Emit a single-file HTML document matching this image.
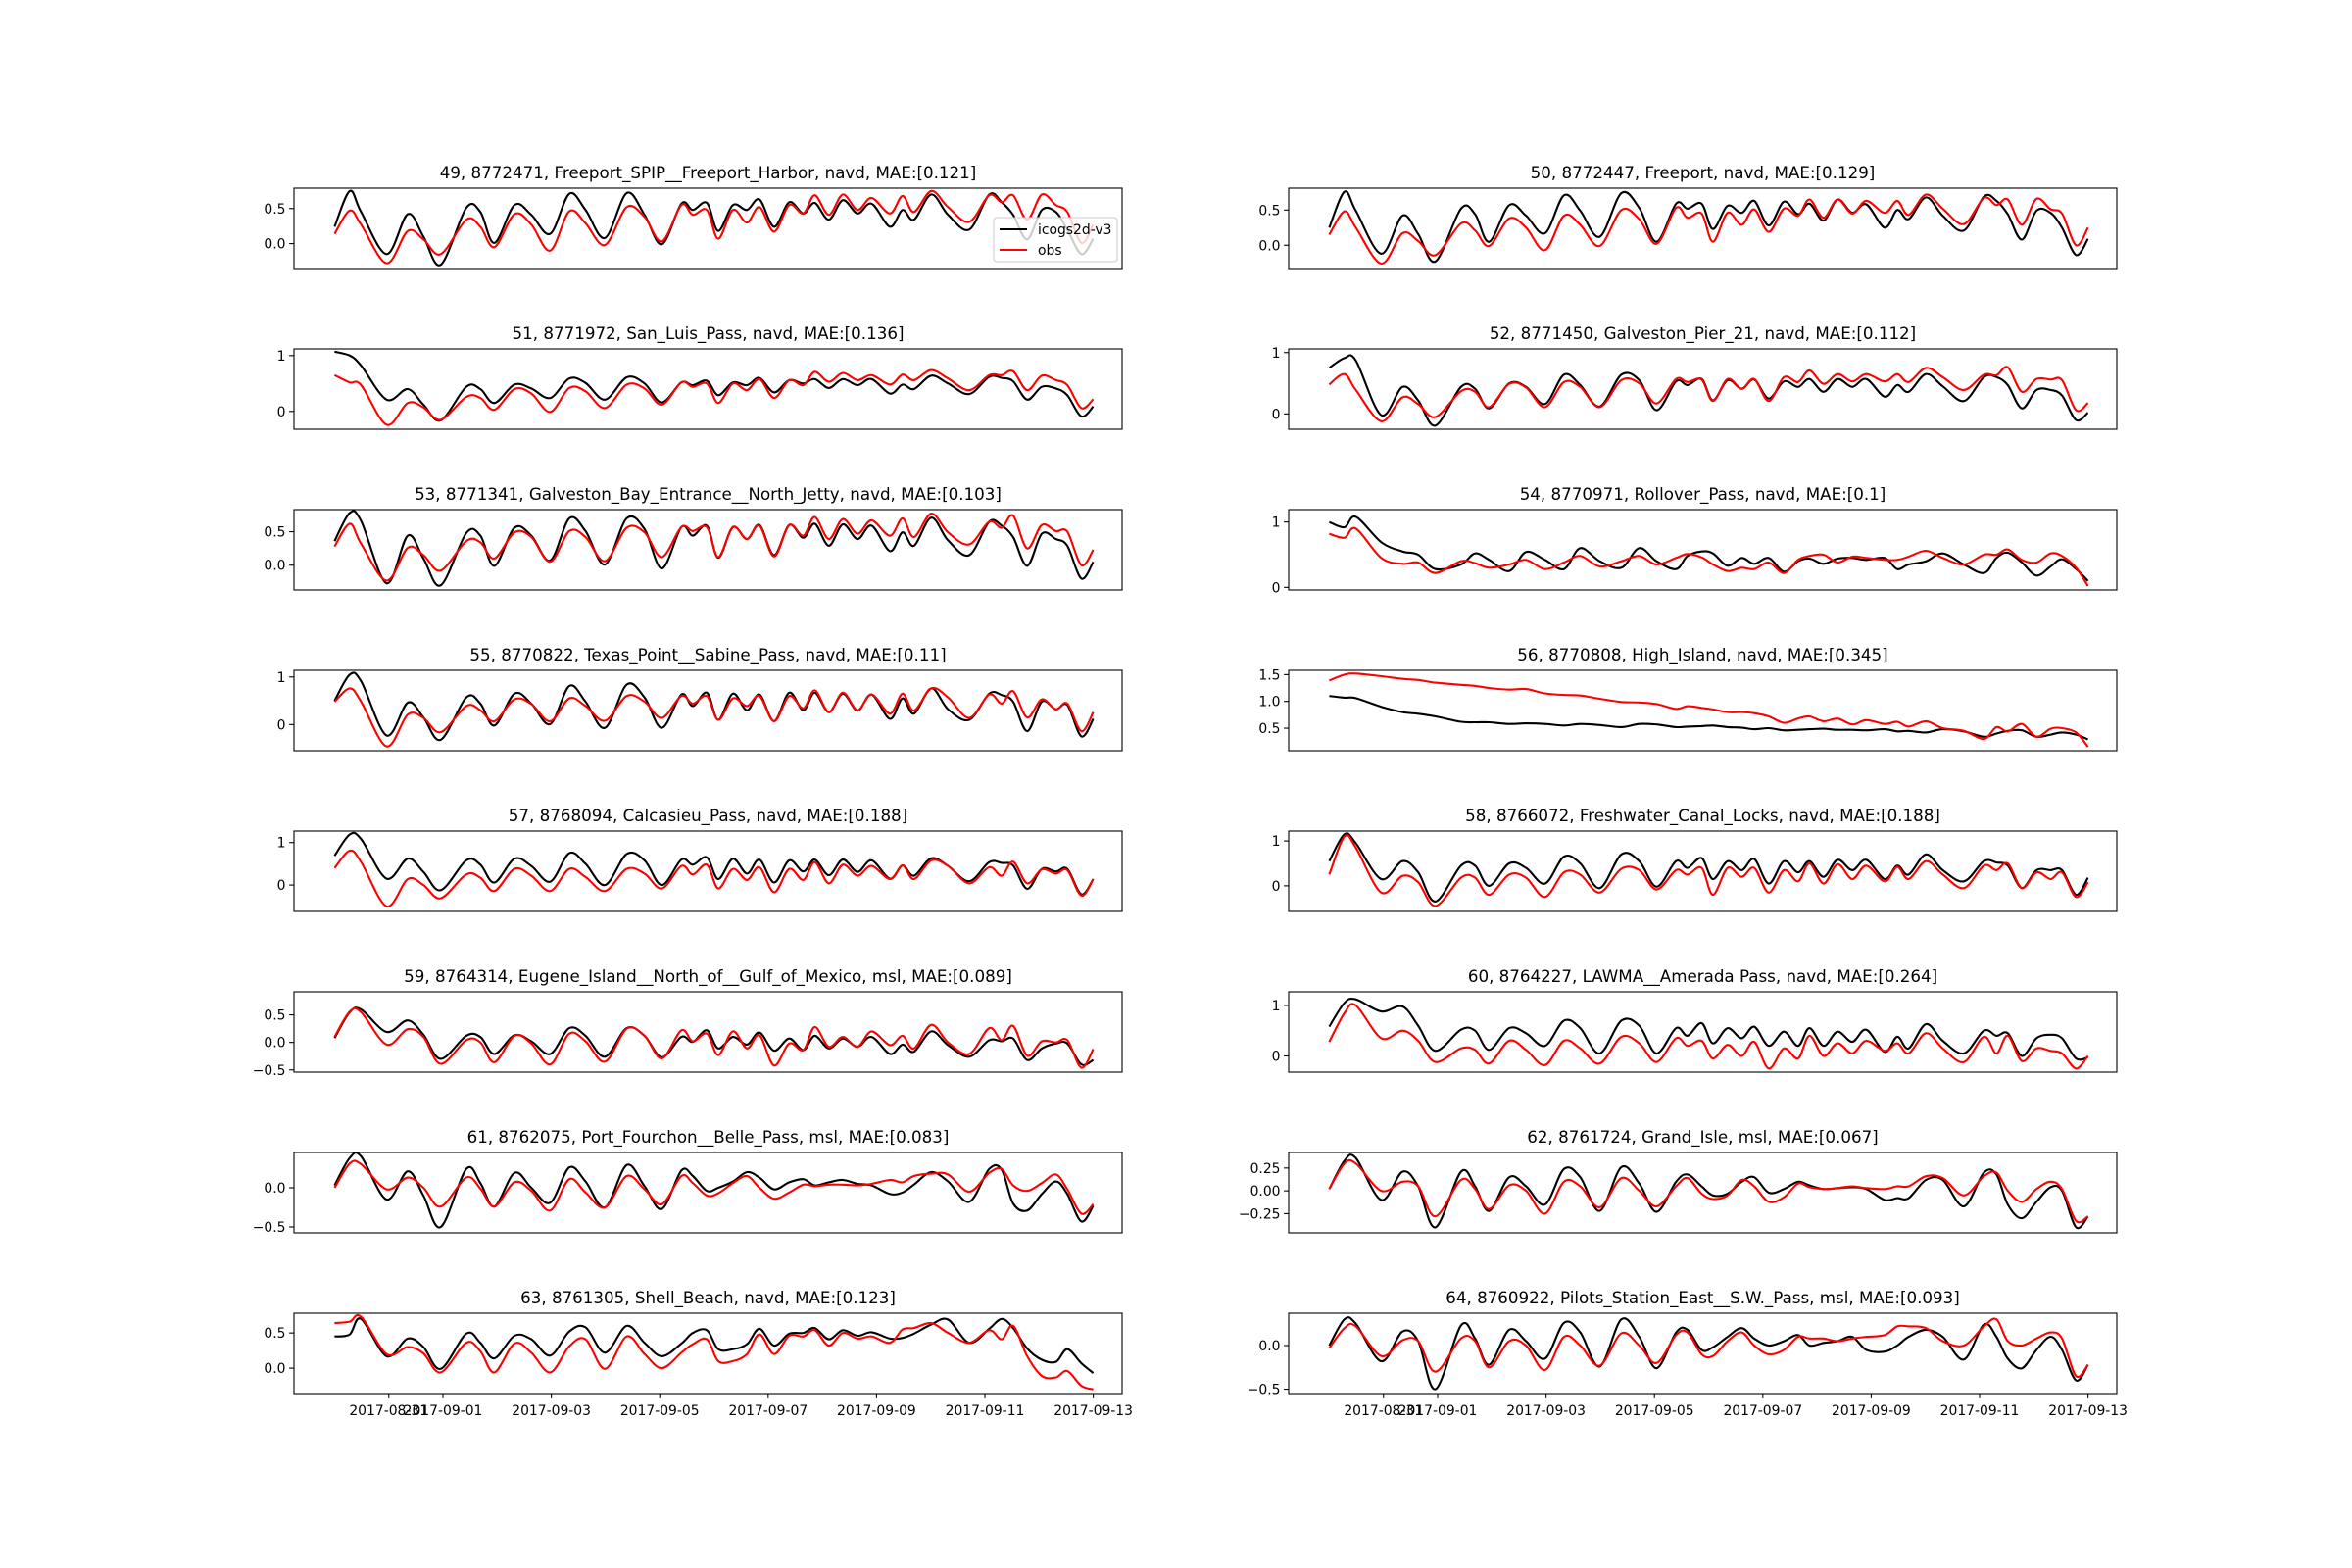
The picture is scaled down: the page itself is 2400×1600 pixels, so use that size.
<!DOCTYPE html>
<html><head><meta charset="utf-8"><title>Water level comparison</title>
<style>html,body{margin:0;padding:0;background:#fff}svg{display:block}text{font-family:"DejaVu Sans","Liberation Sans",sans-serif;font-size:13.9px;fill:#000}text.ttl{font-size:16.7px}</style>
</head><body>
<svg id="fig" xmlns="http://www.w3.org/2000/svg" width="2400" height="1600" viewBox="0 0 2400 1600"></svg>
<script>
// shared sample times, days relative to 2017-09-01
const times=[-2.00,-1.72,-1.51,-1.04,-0.65,-0.36,-0.04,0.43,0.69,0.95,1.32,1.63,1.98,2.33,2.63,2.99,3.39,3.72,4.04,4.40,4.61,4.87,5.08,5.35,5.61,5.84,6.11,6.39,6.65,6.86,7.12,7.38,7.65,7.91,8.25,8.48,8.69,9.01,9.32,9.71,10.08,10.31,10.52,10.78,11.05,11.31,11.52,11.78,12.00];
const xTickDays=[-1,0,2,4,6,8,10,12];
const xTickLabels=["2017-08-31","2017-09-01","2017-09-03","2017-09-05","2017-09-07","2017-09-09","2017-09-11","2017-09-13"];

const m49=[0.24,0.75,0.45,-0.15,0.42,0.10,-0.30,0.51,0.45,0.01,0.55,0.41,0.14,0.71,0.48,0.08,0.72,0.41,-0.01,0.57,0.48,0.58,0.18,0.55,0.48,0.63,0.24,0.59,0.43,0.58,0.34,0.62,0.43,0.57,0.24,0.48,0.34,0.70,0.41,0.20,0.70,0.59,0.41,0.06,0.48,0.45,0.20,-0.15,0.07];
const o49=[0.14,0.47,0.27,-0.28,0.18,0.06,-0.15,0.34,0.24,-0.05,0.42,0.27,-0.10,0.46,0.29,-0.02,0.52,0.38,0.03,0.55,0.41,0.48,0.07,0.48,0.30,0.52,0.17,0.55,0.43,0.69,0.41,0.70,0.48,0.65,0.43,0.68,0.45,0.75,0.52,0.31,0.69,0.59,0.69,0.34,0.70,0.55,0.45,0.01,0.27];
const m51=[1.07,1.00,0.82,0.21,0.40,0.12,-0.16,0.44,0.40,0.15,0.48,0.41,0.24,0.59,0.51,0.21,0.61,0.50,0.16,0.52,0.47,0.55,0.29,0.52,0.47,0.60,0.34,0.56,0.50,0.58,0.42,0.58,0.47,0.58,0.32,0.48,0.40,0.64,0.50,0.31,0.62,0.60,0.54,0.21,0.44,0.41,0.29,-0.09,0.09];
const o51=[0.65,0.52,0.47,-0.24,0.15,0.07,-0.15,0.26,0.24,0.03,0.40,0.32,-0.01,0.42,0.36,0.06,0.48,0.41,0.12,0.52,0.44,0.50,0.15,0.50,0.38,0.58,0.24,0.56,0.47,0.71,0.53,0.69,0.56,0.65,0.48,0.66,0.56,0.74,0.59,0.38,0.65,0.65,0.72,0.38,0.64,0.56,0.47,0.06,0.22];
const m53=[0.36,0.78,0.66,-0.27,0.44,0.10,-0.30,0.48,0.44,-0.01,0.56,0.44,0.07,0.70,0.51,0.01,0.70,0.54,-0.05,0.57,0.44,0.59,0.11,0.57,0.39,0.60,0.15,0.60,0.41,0.62,0.29,0.61,0.39,0.59,0.21,0.49,0.29,0.71,0.37,0.15,0.65,0.59,0.42,-0.01,0.47,0.39,0.29,-0.20,0.05];
const o53=[0.28,0.62,0.32,-0.23,0.26,0.15,-0.08,0.36,0.34,0.10,0.49,0.42,0.05,0.51,0.42,0.06,0.56,0.49,0.12,0.57,0.51,0.57,0.12,0.57,0.39,0.59,0.13,0.60,0.44,0.72,0.39,0.69,0.47,0.67,0.44,0.70,0.42,0.77,0.49,0.31,0.65,0.56,0.74,0.25,0.60,0.51,0.50,0.00,0.23];
const m55=[0.50,1.05,0.91,-0.23,0.46,0.15,-0.32,0.57,0.44,-0.02,0.65,0.44,0.01,0.81,0.48,-0.07,0.84,0.57,-0.07,0.63,0.39,0.67,0.10,0.65,0.30,0.63,0.07,0.67,0.30,0.67,0.26,0.65,0.29,0.63,0.12,0.55,0.23,0.76,0.32,0.10,0.65,0.62,0.48,-0.14,0.48,0.32,0.41,-0.25,0.12];
const o55=[0.48,0.76,0.48,-0.46,0.21,0.14,-0.16,0.39,0.30,0.07,0.53,0.43,0.07,0.55,0.39,0.08,0.60,0.48,0.14,0.60,0.44,0.60,0.10,0.55,0.39,0.60,0.07,0.60,0.34,0.72,0.26,0.67,0.30,0.63,0.23,0.65,0.29,0.76,0.57,0.14,0.63,0.44,0.70,0.15,0.53,0.32,0.44,-0.14,0.26];
const m57=[0.69,1.19,1.08,0.15,0.62,0.31,-0.12,0.58,0.48,0.06,0.62,0.45,0.08,0.75,0.50,0.00,0.73,0.58,0.00,0.60,0.48,0.65,0.14,0.62,0.27,0.60,0.06,0.58,0.32,0.60,0.23,0.60,0.31,0.58,0.15,0.46,0.22,0.63,0.45,0.09,0.54,0.52,0.46,-0.09,0.38,0.32,0.38,-0.22,0.14];
const o57=[0.40,0.81,0.54,-0.50,0.14,0.00,-0.31,0.25,0.17,-0.14,0.38,0.22,-0.14,0.38,0.19,-0.14,0.38,0.27,-0.08,0.45,0.25,0.48,-0.08,0.38,0.12,0.42,-0.17,0.38,0.12,0.54,0.04,0.48,0.22,0.45,0.14,0.46,0.14,0.58,0.45,0.04,0.42,0.22,0.55,0.04,0.37,0.27,0.35,-0.25,0.14];
const m59=[0.08,0.55,0.60,0.19,0.40,0.14,-0.30,0.12,0.10,-0.21,0.13,0.02,-0.21,0.26,0.12,-0.26,0.26,0.12,-0.27,0.10,0.01,0.22,-0.11,0.10,-0.04,0.18,-0.15,0.07,-0.14,0.12,-0.11,0.07,-0.08,0.10,-0.21,-0.04,-0.17,0.20,-0.05,-0.26,0.04,0.02,0.07,-0.32,-0.11,-0.02,-0.02,-0.40,-0.32];
const o59=[0.10,0.56,0.55,-0.04,0.24,0.10,-0.39,0.04,0.00,-0.36,0.12,-0.02,-0.40,0.16,0.02,-0.35,0.25,0.12,-0.29,0.22,0.02,0.16,-0.23,0.20,-0.11,0.13,-0.42,-0.02,-0.14,0.28,-0.08,0.10,-0.08,0.20,-0.05,0.12,-0.11,0.32,0.00,-0.21,0.26,0.04,0.30,-0.24,0.02,0.00,0.04,-0.46,-0.12];
const m61=[0.03,0.38,0.40,-0.15,0.21,-0.10,-0.50,0.24,0.06,-0.24,0.19,0.00,-0.19,0.26,0.08,-0.25,0.29,0.02,-0.27,0.22,0.15,-0.04,0.00,0.08,0.20,0.13,-0.02,0.07,0.11,0.03,0.07,0.10,0.05,0.03,-0.08,-0.06,0.04,0.20,0.08,-0.18,0.24,0.23,-0.20,-0.29,-0.08,0.08,-0.08,-0.43,-0.23];
const o61=[0.00,0.31,0.30,-0.02,0.13,0.00,-0.24,0.13,-0.01,-0.24,0.07,-0.04,-0.29,0.11,-0.06,-0.25,0.15,-0.02,-0.21,0.15,0.06,-0.10,-0.07,0.06,0.15,0.00,-0.14,-0.06,0.04,0.02,0.04,0.04,0.03,0.05,0.10,0.07,0.15,0.18,0.17,-0.05,0.19,0.24,0.03,-0.04,0.06,0.17,-0.02,-0.33,-0.21];
const m63=[0.45,0.48,0.70,0.17,0.42,0.30,-0.01,0.49,0.36,0.14,0.46,0.41,0.18,0.52,0.58,0.22,0.60,0.36,0.17,0.35,0.50,0.54,0.27,0.27,0.34,0.56,0.32,0.49,0.50,0.57,0.41,0.54,0.46,0.51,0.42,0.43,0.49,0.62,0.69,0.36,0.56,0.70,0.57,0.28,0.12,0.09,0.27,0.07,-0.07];
const o63=[0.64,0.66,0.73,0.20,0.30,0.21,-0.06,0.36,0.24,-0.06,0.35,0.22,-0.06,0.31,0.41,-0.01,0.45,0.20,0.00,0.22,0.34,0.41,0.10,0.10,0.20,0.48,0.20,0.46,0.45,0.54,0.32,0.50,0.42,0.45,0.36,0.55,0.57,0.64,0.50,0.36,0.54,0.41,0.60,0.17,-0.11,-0.13,-0.04,-0.25,-0.30];
const m50=[0.25,0.76,0.49,-0.12,0.42,0.16,-0.23,0.52,0.44,0.05,0.57,0.42,0.17,0.71,0.49,0.12,0.74,0.53,0.05,0.59,0.52,0.59,0.23,0.56,0.46,0.63,0.28,0.62,0.44,0.59,0.35,0.65,0.46,0.58,0.25,0.50,0.37,0.68,0.42,0.21,0.69,0.63,0.44,0.08,0.49,0.46,0.25,-0.14,0.09];
const o50=[0.15,0.48,0.25,-0.26,0.17,0.06,-0.14,0.31,0.21,-0.01,0.38,0.25,-0.07,0.42,0.29,-0.01,0.50,0.37,0.02,0.53,0.39,0.45,0.05,0.46,0.29,0.51,0.19,0.52,0.42,0.65,0.39,0.65,0.45,0.63,0.46,0.63,0.43,0.72,0.52,0.30,0.67,0.57,0.65,0.29,0.66,0.51,0.45,0.00,0.25];
const m52=[0.75,0.91,0.87,-0.02,0.44,0.22,-0.19,0.44,0.41,0.09,0.50,0.44,0.16,0.64,0.47,0.12,0.64,0.55,0.06,0.53,0.47,0.57,0.22,0.55,0.41,0.56,0.25,0.53,0.44,0.57,0.36,0.57,0.44,0.57,0.28,0.47,0.36,0.65,0.45,0.21,0.60,0.60,0.47,0.09,0.39,0.39,0.30,-0.10,0.02];
const o52=[0.48,0.65,0.39,-0.12,0.27,0.16,-0.05,0.37,0.36,0.11,0.49,0.43,0.11,0.52,0.44,0.11,0.55,0.50,0.17,0.57,0.52,0.56,0.21,0.57,0.41,0.57,0.21,0.60,0.52,0.71,0.49,0.65,0.53,0.65,0.53,0.65,0.52,0.75,0.60,0.39,0.64,0.63,0.76,0.36,0.57,0.56,0.55,0.06,0.18];
const m54=[1.00,0.92,1.08,0.69,0.55,0.50,0.28,0.35,0.52,0.42,0.25,0.54,0.42,0.28,0.60,0.40,0.30,0.60,0.40,0.28,0.48,0.55,0.52,0.33,0.45,0.36,0.45,0.24,0.40,0.44,0.36,0.44,0.45,0.42,0.45,0.28,0.35,0.40,0.52,0.35,0.22,0.45,0.53,0.38,0.18,0.32,0.43,0.28,0.10];
const o54=[0.82,0.76,0.90,0.45,0.36,0.38,0.22,0.40,0.37,0.30,0.35,0.42,0.28,0.38,0.48,0.32,0.40,0.48,0.35,0.45,0.51,0.46,0.35,0.25,0.30,0.28,0.38,0.22,0.42,0.48,0.50,0.38,0.47,0.45,0.42,0.42,0.47,0.56,0.45,0.35,0.50,0.50,0.58,0.42,0.38,0.52,0.48,0.30,0.02];
const m56=[1.10,1.07,1.06,0.90,0.80,0.77,0.72,0.62,0.61,0.61,0.58,0.59,0.58,0.55,0.58,0.56,0.52,0.58,0.57,0.52,0.53,0.54,0.55,0.52,0.51,0.48,0.50,0.46,0.47,0.48,0.49,0.47,0.47,0.46,0.48,0.44,0.45,0.42,0.48,0.44,0.34,0.40,0.45,0.46,0.34,0.38,0.42,0.38,0.29];
const o56=[1.39,1.50,1.52,1.47,1.42,1.40,1.35,1.31,1.29,1.25,1.22,1.23,1.15,1.12,1.11,1.05,0.99,0.98,0.95,0.86,0.91,0.88,0.85,0.80,0.80,0.78,0.72,0.60,0.68,0.72,0.63,0.68,0.57,0.65,0.58,0.62,0.53,0.63,0.50,0.45,0.30,0.52,0.44,0.58,0.34,0.49,0.50,0.42,0.15];
const m58=[0.55,1.15,0.95,0.15,0.55,0.30,-0.35,0.45,0.45,0.00,0.50,0.40,0.05,0.65,0.50,-0.05,0.70,0.55,-0.02,0.55,0.40,0.62,0.15,0.55,0.35,0.60,0.05,0.55,0.30,0.55,0.20,0.58,0.35,0.58,0.15,0.45,0.25,0.70,0.35,0.10,0.55,0.52,0.45,-0.05,0.35,0.35,0.35,-0.20,0.18];
const o58=[0.25,1.10,0.85,-0.15,0.22,0.08,-0.45,0.18,0.18,-0.20,0.25,0.18,-0.25,0.30,0.25,-0.15,0.38,0.35,-0.08,0.35,0.25,0.40,-0.20,0.40,0.20,0.40,-0.15,0.35,0.10,0.50,0.05,0.48,0.15,0.45,0.10,0.42,0.15,0.55,0.25,-0.05,0.45,0.35,0.50,-0.05,0.30,0.15,0.30,-0.25,0.08];
const m60=[0.58,1.05,1.12,0.88,0.98,0.60,0.10,0.52,0.50,0.12,0.55,0.45,0.20,0.70,0.55,0.05,0.70,0.60,0.05,0.55,0.40,0.65,0.25,0.55,0.35,0.58,0.20,0.48,0.20,0.55,0.20,0.48,0.28,0.52,0.08,0.38,0.15,0.63,0.30,0.05,0.50,0.40,0.45,0.00,0.35,0.42,0.35,-0.05,-0.03];
const o60=[0.28,0.85,1.00,0.35,0.50,0.30,-0.12,0.15,0.12,-0.15,0.30,0.12,-0.18,0.30,0.15,-0.15,0.38,0.25,-0.12,0.35,0.20,0.30,-0.05,0.22,0.00,0.28,-0.25,0.15,-0.05,0.40,0.00,0.25,0.05,0.30,0.10,0.25,0.05,0.45,0.15,-0.12,0.38,0.05,0.40,-0.10,0.15,0.10,0.05,-0.25,0.00];
const m62=[0.02,0.33,0.36,-0.10,0.21,0.05,-0.40,0.21,0.05,-0.22,0.15,0.05,-0.15,0.24,0.15,-0.22,0.26,0.08,-0.23,0.10,0.18,0.05,-0.05,-0.03,0.10,0.15,-0.02,0.02,0.10,0.06,0.02,0.03,0.04,0.02,-0.10,-0.08,-0.08,0.12,0.12,-0.17,0.20,0.18,-0.15,-0.30,-0.12,0.04,0.00,-0.40,-0.28];
const o62=[0.02,0.30,0.30,0.00,0.10,0.05,-0.28,0.12,0.02,-0.20,0.06,0.00,-0.25,0.10,0.05,-0.18,0.14,0.00,-0.17,0.05,0.14,-0.03,-0.09,-0.05,0.12,0.05,-0.12,-0.07,0.08,0.04,0.02,0.03,0.05,0.03,0.02,0.05,0.05,0.16,0.14,-0.05,0.16,0.20,0.00,-0.12,0.02,0.10,0.02,-0.33,-0.28];
const m64=[0.00,0.30,0.25,-0.18,0.16,0.05,-0.50,0.23,0.08,-0.22,0.18,0.05,-0.15,0.26,0.15,-0.24,0.30,0.10,-0.26,0.15,0.18,-0.05,-0.02,0.10,0.20,0.08,0.00,0.05,0.12,0.00,0.03,0.05,0.10,-0.05,-0.07,0.00,0.10,0.18,0.10,-0.16,0.24,0.10,-0.15,-0.26,-0.05,0.10,-0.05,-0.40,-0.22];
const o64=[-0.03,0.20,0.22,-0.12,0.06,0.05,-0.30,0.08,0.05,-0.25,0.05,0.00,-0.28,0.10,0.00,-0.23,0.14,0.00,-0.20,0.12,0.15,-0.10,-0.12,0.05,0.15,0.00,-0.10,-0.05,0.10,0.08,0.08,0.05,0.08,0.10,0.12,0.22,0.22,0.20,0.05,0.00,0.22,0.30,0.05,0.00,0.08,0.15,0.08,-0.35,-0.22];

const panels=[
 {col:0,row:0,title:"49, 8772471, Freeport_SPIP__Freeport_Harbor, navd, MAE:[0.121]",m:m49,o:o49,yl:[-0.355,0.79],yt:[0,0.5],ytl:["0.0","0.5"],legend:true},
 {col:0,row:1,title:"51, 8771972, San_Luis_Pass, navd, MAE:[0.136]",m:m51,o:o51,yl:[-0.32,1.12],yt:[0,1],ytl:["0","1"]},
 {col:0,row:2,title:"53, 8771341, Galveston_Bay_Entrance__North_Jetty, navd, MAE:[0.103]",m:m53,o:o53,yl:[-0.37,0.83],yt:[0,0.5],ytl:["0.0","0.5"]},
 {col:0,row:3,title:"55, 8770822, Texas_Point__Sabine_Pass, navd, MAE:[0.11]",m:m55,o:o55,yl:[-0.55,1.14],yt:[0,1],ytl:["0","1"]},
 {col:0,row:4,title:"57, 8768094, Calcasieu_Pass, navd, MAE:[0.188]",m:m57,o:o57,yl:[-0.62,1.27],yt:[0,1],ytl:["0","1"]},
 {col:0,row:5,title:"59, 8764314, Eugene_Island__North_of__Gulf_of_Mexico, msl, MAE:[0.089]",m:m59,o:o59,yl:[-0.54,0.92],yt:[-0.5,0,0.5],ytl:["\u22120.5","0.0","0.5"]},
 {col:0,row:6,title:"61, 8762075, Port_Fourchon__Belle_Pass, msl, MAE:[0.083]",m:m61,o:o61,yl:[-0.575,0.45],yt:[-0.5,0],ytl:["\u22120.5","0.0"]},
 {col:0,row:7,title:"63, 8761305, Shell_Beach, navd, MAE:[0.123]",m:m63,o:o63,yl:[-0.36,0.78],yt:[0,0.5],ytl:["0.0","0.5"]},
 {col:1,row:0,title:"50, 8772447, Freeport, navd, MAE:[0.129]",m:m50,o:o50,yl:[-0.33,0.81],yt:[0,0.5],ytl:["0.0","0.5"]},
 {col:1,row:1,title:"52, 8771450, Galveston_Pier_21, navd, MAE:[0.112]",m:m52,o:o52,yl:[-0.25,1.06],yt:[0,1],ytl:["0","1"]},
 {col:1,row:2,title:"54, 8770971, Rollover_Pass, navd, MAE:[0.1]",m:m54,o:o54,yl:[-0.04,1.19],yt:[0,1],ytl:["0","1"]},
 {col:1,row:3,title:"56, 8770808, High_Island, navd, MAE:[0.345]",m:m56,o:o56,yl:[0.08,1.58],yt:[0.5,1,1.5],ytl:["0.5","1.0","1.5"]},
 {col:1,row:4,title:"58, 8766072, Freshwater_Canal_Locks, navd, MAE:[0.188]",m:m58,o:o58,yl:[-0.57,1.22],yt:[0,1],ytl:["0","1"]},
 {col:1,row:5,title:"60, 8764227, LAWMA__Amerada Pass, navd, MAE:[0.264]",m:m60,o:o60,yl:[-0.32,1.27],yt:[0,1],ytl:["0","1"]},
 {col:1,row:6,title:"62, 8761724, Grand_Isle, msl, MAE:[0.067]",m:m62,o:o62,yl:[-0.46,0.42],yt:[-0.25,0,0.25],ytl:["\u22120.25","0.00","0.25"]},
 {col:1,row:7,title:"64, 8760922, Pilots_Station_East__S.W._Pass, msl, MAE:[0.093]",m:m64,o:o64,yl:[-0.55,0.37],yt:[-0.5,0],ytl:["\u22120.5","0.0"]}
];

const NS="http://www.w3.org/2000/svg";
const svg=document.getElementById('fig');
function mk(tag,attrs,parent){const e=document.createElementNS(NS,tag);for(const k in attrs)e.setAttribute(k,attrs[k]);(parent||svg).appendChild(e);return e;}
const colLeft=[300,1315], AW=845, AH=82, TOP=192, STEP=164;
const X0=-2.749, DAYPX=55.3;
function smooth(pts){let d="M"+pts[0][0].toFixed(1)+","+pts[0][1].toFixed(1);
 for(let i=0;i<pts.length-1;i++){const p0=pts[Math.max(0,i-1)],p1=pts[i],p2=pts[i+1],p3=pts[Math.min(pts.length-1,i+2)];
  const c1x=p1[0]+(p2[0]-p0[0])/6,c1y=p1[1]+(p2[1]-p0[1])/6,c2x=p2[0]-(p3[0]-p1[0])/6,c2y=p2[1]-(p3[1]-p1[1])/6;
  d+=" C"+c1x.toFixed(1)+","+c1y.toFixed(1)+" "+c2x.toFixed(1)+","+c2y.toFixed(1)+" "+p2[0].toFixed(1)+","+p2[1].toFixed(1);}
 return d;}
panels.forEach((p,pi)=>{
 const L=colLeft[p.col], T=TOP+STEP*p.row;
 const g=mk('g',{});
 
 
 const xs=d=>L+(d-X0)*DAYPX;
 const ys=v=>T+AH-(v-p.yl[0])/(p.yl[1]-p.yl[0])*AH;
 const clipId='c'+pi;
 const cp=mk('clipPath',{id:clipId},g);mk('rect',{x:L,y:T,width:AW,height:AH},cp);
 const t=mk('text',{x:L+AW/2,y:T-10,'text-anchor':'middle','class':'ttl'},g);t.textContent=p.title;
 
 
 const lm=mk('path',{d:smooth(times.map((d,i)=>[xs(d),ys(p.m[i])])),fill:'none',stroke:'#000','stroke-width':2.1,'stroke-linejoin':'round','clip-path':'url(#'+clipId+')'},g);
 
 
 const lo=mk('path',{d:smooth(times.map((d,i)=>[xs(d),ys(p.o[i])])),fill:'none',stroke:'#ff0000','stroke-width':2.1,'stroke-linejoin':'round','clip-path':'url(#'+clipId+')'},g);
 
 
 p.yt.forEach((v,i)=>{const y=ys(v);mk('line',{x1:L-4.9,x2:L,y1:y,y2:y,stroke:'#000','stroke-width':1.1},g);
  const tl=mk('text',{x:L-8.5,y:y+5,'text-anchor':'end'},g);tl.textContent=p.ytl[i];
  
  });
 if(p.row===7){xTickDays.forEach((d,i)=>{const x=xs(d);mk('line',{x1:x,x2:x,y1:T+AH,y2:T+AH+4.9,stroke:'#000','stroke-width':1.1},g);
  const xl=mk('text',{x:x,y:T+AH+22,'text-anchor':'middle'},g);xl.textContent=xTickLabels[i];
  
  });}
 const fr=mk('rect',{x:L,y:T,width:AW,height:AH,fill:'none',stroke:'#000','stroke-width':1.1},g);
 
 
 if(p.legend){const lg=mk('g',{},g);
  
  
  mk('rect',{x:1014,y:222,width:126,height:45,rx:3,fill:'#fff','fill-opacity':0.8,stroke:'#cccccc','stroke-width':1.1},lg);
  mk('line',{x1:1020,x2:1048,y1:234,y2:234,stroke:'#000','stroke-width':2.1},lg);
  const a=mk('text',{x:1059,y:239},lg);a.textContent='icogs2d-v3';
  
  
  mk('line',{x1:1020,x2:1048,y1:255,y2:255,stroke:'#ff0000','stroke-width':2.1},lg);
  const b=mk('text',{x:1059,y:260},lg);b.textContent='obs';
  
  }
});
</script>
</body></html>
